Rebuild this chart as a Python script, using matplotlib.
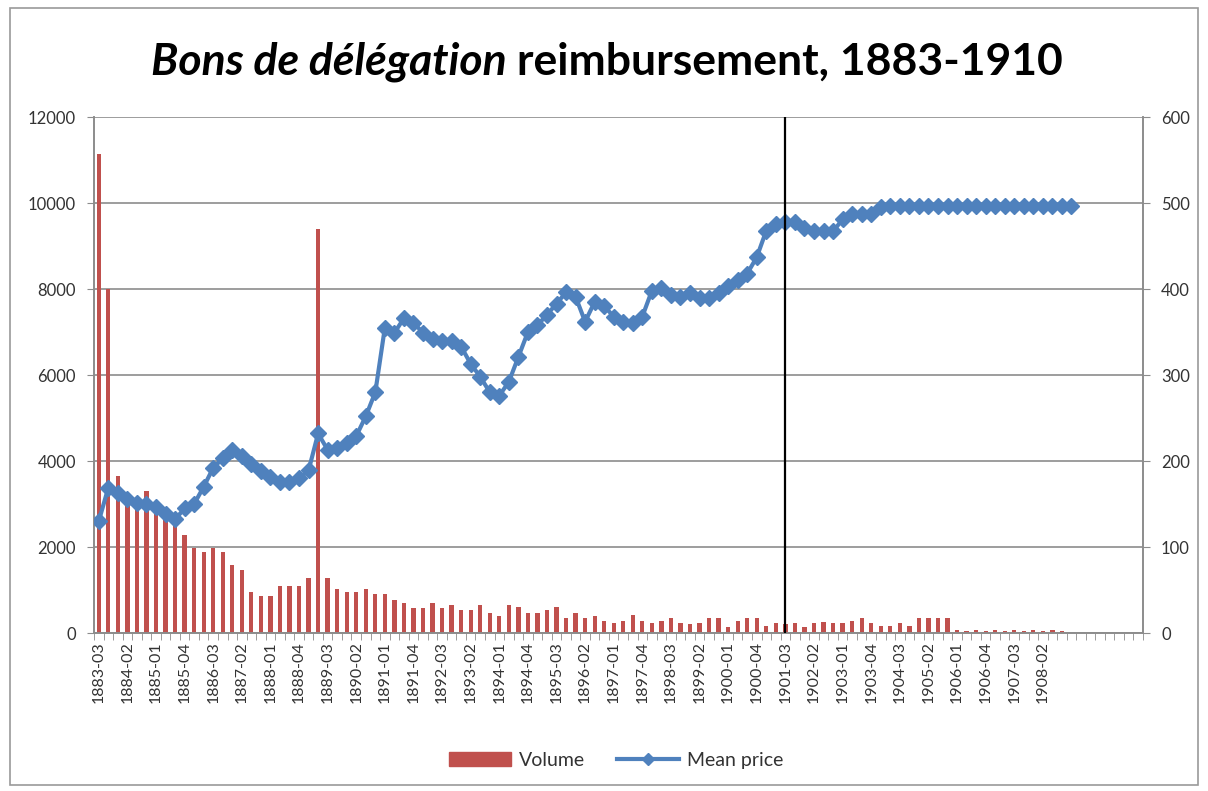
import matplotlib
matplotlib.use("Agg")
import matplotlib.pyplot as plt
from matplotlib.patches import Patch, Rectangle
from matplotlib.lines import Line2D

plt.rcParams['font.family'] = ['Lato', 'DejaVu Sans']

# categories: quarters 1883-03 .. 1910-04
quarters = ["%d-%02d" % (1883 + (q + 2) // 4, (q + 2) % 4 + 1) for q in range(110)]
last_label = 99  # labels shown up to 1908-02

volume = [11150, 8000, 3650, 3100, 3050, 3300, 2950, 2750, 2550, 2280,
          1970, 1890, 1970, 1890, 1580, 1460, 960, 850, 850, 1090,
          1090, 1090, 1270, 9400, 1270, 1020, 960, 960, 1020, 900,
          900, 770, 700, 575, 575, 700, 575, 650, 535, 535,
          650, 475, 395, 650, 600, 475, 475, 535, 600, 340,
          475, 340, 395, 290, 225, 290, 420, 290, 225, 290,
          340, 225, 210, 225, 340, 340, 150, 290, 340, 340,
          165, 225, 200, 225, 150, 225, 265, 225, 225, 290,
          340, 225, 165, 165, 225, 165, 340, 340, 340, 340,
          60, 50, 60, 50, 60, 50, 60, 50, 60, 50, 60, 50]

mean_price = [130, 169, 163, 156, 151, 150, 146, 138, 132, 145,
              150, 170, 192, 203, 213, 206, 196, 188, 181, 176,
              176, 180, 189, 232, 213, 215, 221, 229, 252, 280,
              355, 349, 366, 361, 349, 342, 339, 340, 333, 313,
              298, 280, 276, 292, 321, 350, 358, 370, 383, 396,
              391, 362, 385, 380, 368, 362, 361, 368, 398, 401,
              393, 391, 395, 390, 390, 395, 403, 410, 418, 437,
              468, 476, 478, 478, 471, 467, 467, 467, 481, 487,
              487, 487, 495, 496, 496, 496, 496, 496, 496, 496,
              496, 496, 496, 496, 496, 496, 496, 496, 496, 496,
              496, 496, 496]

marker_quarter = "1901-03"

red = '#C0504D'
blue = '#4F81BD'
grid_c = '#8c8c8c'
text_c = '#333333'

fig = plt.figure(figsize=(12.08, 7.91), dpi=100)
ax = fig.add_axes([94 / 1208, 1 - 633 / 791, 1049 / 1208, 516 / 791])
ax2 = ax.twinx()

ax.bar(range(len(volume)), volume, width=0.45, color=red, zorder=2)
ax.set_xlim(-0.5, len(quarters) - 0.5)
ax.set_ylim(0, 12000)
ax.set_yticks(range(0, 12001, 2000))
ax.yaxis.grid(True, color=grid_c, lw=1.2)
ax.set_axisbelow(True)

ax2.plot(range(len(mean_price)), mean_price, color=blue, lw=3,
         marker='D', markersize=8.5, zorder=3)
ax2.set_ylim(0, 600)
ax2.set_yticks(range(0, 601, 100))
ax2.axvline(quarters.index(marker_quarter), color='black', lw=1.6, zorder=4)

# x axis: labels every 3 quarters, tick marks between categories
lab_pos = list(range(0, last_label + 1, 3))
ax.set_xticks(lab_pos)
ax.set_xticklabels([quarters[i] for i in lab_pos], rotation=90, fontsize=11.5, color=text_c)
ax.set_xticks([i - 0.5 for i in range(len(quarters) + 1)], minor=True)
ax.tick_params(axis='x', which='major', length=0, pad=6)
ax.tick_params(axis='x', which='minor', length=5, color=grid_c, direction='out')

ax.tick_params(axis='y', length=5, color=grid_c, labelsize=12, labelcolor=text_c, pad=8)
ax2.tick_params(axis='y', length=5, color=grid_c, labelsize=12, labelcolor=text_c, pad=8)

for a in (ax, ax2):
    a.spines['top'].set_visible(False)
    for s in ('left', 'right', 'bottom'):
        a.spines[s].set_color(grid_c)
        a.spines[s].set_linewidth(1.2)

# title with italic part
fig.canvas.draw()
r = fig.canvas.get_renderer()
t1 = fig.text(0, 0.922, "Bons de délégation", fontsize=32, style='italic',
              weight='bold', va='center', ha='left', color='black')
t2 = fig.text(0, 0.922, " reimbursement, 1883-1910", fontsize=32,
              weight='bold', va='center', ha='left', color='black')
w1 = t1.get_window_extent(r).width
w2 = t2.get_window_extent(r).width
x0 = 607 - (w1 + w2) / 2
t1.set_x(x0 / 1208)
t2.set_x((x0 + w1) / 1208)

handles = [Patch(color=red),
           Line2D([], [], color=blue, lw=3, marker='D', markersize=6)]
fig.legend(handles, ['Volume', 'Mean price'], loc='center',
           bbox_to_anchor=(0.51, 0.039), ncol=2, frameon=False, fontsize=14,
           handlelength=3.2, handletextpad=0.4, columnspacing=1.6, labelcolor=text_c)

fig.patches.append(Rectangle((10 / 1208, 6 / 791), 1188 / 1208, 777 / 791,
                             transform=fig.transFigure, fill=False,
                             ec='#9a9a9a', lw=1.2))

fig.savefig("out.png", dpi=100)
